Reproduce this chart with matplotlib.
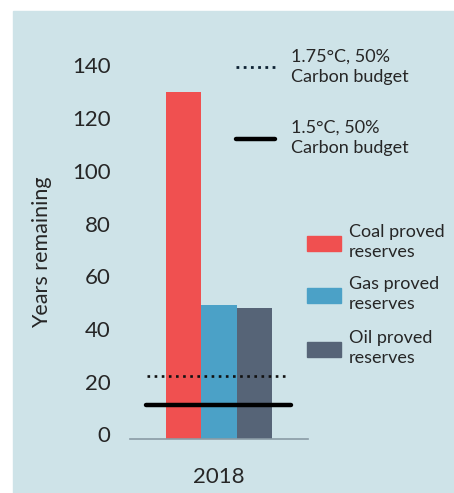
import matplotlib
matplotlib.use('Agg')
import matplotlib.pyplot as plt
from matplotlib.patches import Rectangle
from matplotlib.lines import Line2D

# data
fuels = ['Coal proved\nreserves', 'Gas proved\nreserves', 'Oil proved\nreserves']
years_left = [130, 49, 48]
fuel_colors = ['#f05050', '#4ba1c7', '#566477']
budget_labels = ['1.75°C, 50%\nCarbon budget', '1.5°C, 50%\nCarbon budget']
budget_years = [22, 11]
yticks = [0, 20, 40, 60, 80, 100, 120, 140]
year_label = '2018'

W, H = 454, 493
bg = '#cee3e8'
txt = '#262626'
plt.rcParams['font.family'] = ['Lato', 'DejaVu Sans']

fig = plt.figure(figsize=(W / 100, H / 100), dpi=100)
fig.patch.set_facecolor('white')

# pixel overlay for background panel and legend
over = fig.add_axes([0, 0, 1, 1])
over.set_xlim(0, W)
over.set_ylim(H, 0)
over.axis('off')
over.add_patch(Rectangle((13, 11), W - 13, H - 11, color=bg, zorder=0))

# main axes: x pixels 130..308, zero at y pixel 434.4, 2.635 px per year
# the baseline sits a little below zero, as in the reference
y0, y1 = -1.9, 145
ax = fig.add_axes([130 / W, (H - 439.4) / H, 178 / W, (y1 - y0) * 2.635 / H])
ax.set_facecolor('none')
xs = [0, 1, 2]
ax.bar(xs, [v - y0 for v in years_left], bottom=y0, width=1.0,
       color=fuel_colors, zorder=2)
ax.hlines(budget_years[0], -1.03, 2.93, colors='#111111', lw=1.9,
          linestyles=(0, (1, 1.7)), zorder=3)
ax.hlines(budget_years[1], -1.05, 3.02, colors='black', lw=3.2,
          capstyle='round', zorder=3)
ax.set_xlim(-1.5, 3.5)
ax.set_ylim(y0, y1)
for s in ['top', 'right', 'left']:
    ax.spines[s].set_visible(False)
ax.spines['bottom'].set_color('#8a9ba5')
ax.spines['bottom'].set_linewidth(1.2)
ax.set_yticks(yticks)
ax.set_xticks([1])
ax.set_xticklabels([year_label])
ax.tick_params(axis='y', length=0, pad=14, labelsize=16, labelcolor=txt)
ax.tick_params(axis='x', length=0, pad=20, labelsize=16, labelcolor=txt)

fig.text(42 / W, 1 - 252 / H, 'Years remaining', rotation=90, ha='center',
         va='center', fontsize=15.5, color=txt)

# legend: budgets
over.add_line(Line2D([236, 275], [67, 67], color='#0d2233', lw=2.0,
                     linestyle=(0, (1, 1.6))))
over.add_line(Line2D([236, 275], [139, 139], color='black', lw=3.2,
                     solid_capstyle='round'))
over.text(291, 67, budget_labels[0], ha='left', va='center', fontsize=13,
          color=txt, linespacing=1.35)
over.text(291, 138, budget_labels[1], ha='left', va='center', fontsize=13,
          color=txt, linespacing=1.35)

# legend: fuels
patch_y = [236, 288, 342]
for lab, col, py in zip(fuels, fuel_colors, patch_y):
    over.add_patch(Rectangle((307, py), 34, 15, color=col))
    over.text(349, py + 6, lab, ha='left', va='center', fontsize=13,
              color=txt, linespacing=1.35)

fig.savefig('out.png', dpi=100, facecolor='white')
